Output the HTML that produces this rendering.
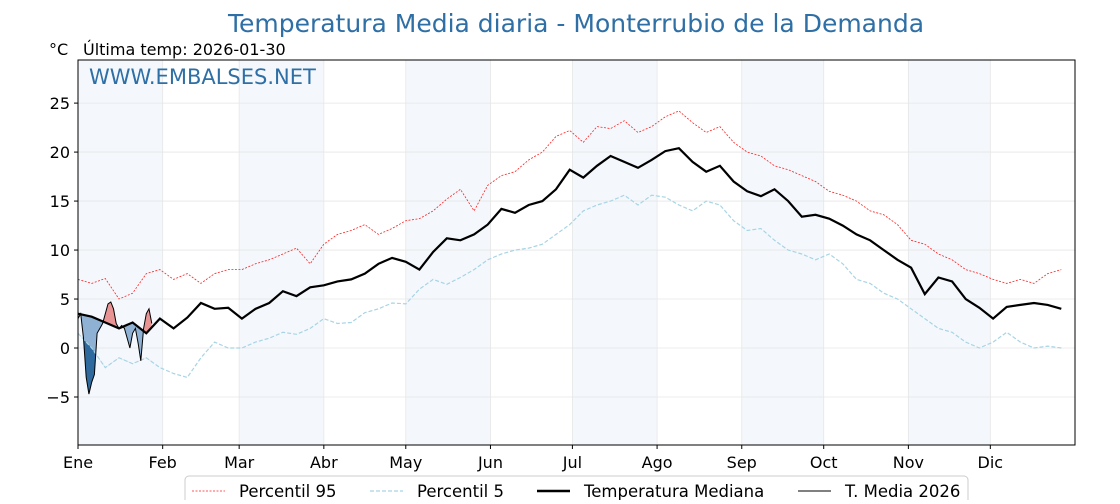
<!DOCTYPE html>
<html><head><meta charset="utf-8"><style>
body{margin:0;background:#fff;font-family:"DejaVu Sans","Liberation Sans",sans-serif;}
</style></head><body>
<svg id="chart" width="1120" height="500" xmlns="http://www.w3.org/2000/svg" style="font-family:'DejaVu Sans','Liberation Sans',sans-serif">
</svg>
<script>
const months=["Ene","Feb","Mar","Abr","May","Jun","Jul","Ago","Sep","Oct","Nov","Dic"];
const monthStart=[0,31,59,90,120,151,181,212,243,273,304,334];
const yTicks=[-5,0,5,10,15,20,25];
const stepDays=5;
const median=[3.5,3.2,2.6,2.0,2.6,1.5,3.0,2.0,3.1,4.6,4.0,4.1,3.0,4.0,4.6,5.8,5.3,6.2,6.4,6.8,7.0,7.6,8.6,9.2,8.8,8.0,9.8,11.2,11.0,11.6,12.6,14.2,13.8,14.6,15.0,16.2,18.2,17.4,18.6,19.6,19.0,18.4,19.2,20.1,20.4,19.0,18.0,18.6,17.0,16.0,15.5,16.2,15.0,13.4,13.6,13.2,12.5,11.6,11.0,10.0,9.0,8.2,5.5,7.2,6.8,5.0,4.1,3.0,4.2,4.4,4.6,4.4,4.0];
const p95=[7.0,6.6,7.1,5.0,5.6,7.6,8.0,7.0,7.6,6.6,7.6,8.0,8.0,8.6,9.0,9.6,10.2,8.6,10.6,11.6,12.0,12.6,11.6,12.2,13.0,13.2,14.0,15.2,16.2,14.0,16.6,17.6,18.0,19.2,20.0,21.6,22.2,21.0,22.6,22.4,23.2,22.0,22.6,23.6,24.2,23.0,22.0,22.6,21.0,20.0,19.6,18.6,18.2,17.6,17.0,16.0,15.6,15.0,14.0,13.6,12.6,11.0,10.6,9.6,9.0,8.0,7.6,7.0,6.6,7.0,6.6,7.6,8.0];
const p5=[1.5,0.0,-2.0,-1.0,-1.6,-1.0,-2.0,-2.6,-3.0,-1.0,0.6,0.0,0.0,0.6,1.0,1.6,1.4,2.0,3.0,2.5,2.6,3.6,4.0,4.6,4.5,6.0,7.0,6.5,7.2,8.0,9.0,9.6,10.0,10.2,10.6,11.6,12.6,14.0,14.6,15.0,15.6,14.6,15.6,15.4,14.6,14.0,15.0,14.6,13.0,12.0,12.2,11.0,10.0,9.6,9.0,9.6,8.6,7.0,6.6,5.6,5.0,4.0,3.0,2.0,1.6,0.6,0.0,0.6,1.6,0.6,0.0,0.2,0.0];
const t2026=[3.0,3.5,1.0,-3.0,-4.7,-3.5,-2.7,1.5,2.0,2.5,3.5,4.5,4.7,4.0,2.5,2.0,2.3,2.0,1.0,0.0,1.5,2.0,0.5,-1.3,2.0,3.5,4.0,2.5];

const L=78,R=1075,T=60,B=445,yMin=-9.9,yMax=29.4;
const xs=d=>L+d*(R-L)/365;
const ys=v=>B-(v-yMin)*(B-T)/(yMax-yMin);
const svg=document.getElementById('chart');
const NS='http://www.w3.org/2000/svg';
function mk(tag,attrs,parent){const e=document.createElementNS(NS,tag);for(const k in attrs)e.setAttribute(k,attrs[k]);(parent||svg).appendChild(e);return e;}
function interp(arr,d){const i=d/stepDays,a=Math.floor(i),f=i-a;const v0=arr[Math.min(a,arr.length-1)],v1=arr[Math.min(a+1,arr.length-1)];return v0+(v1-v0)*f;}
function pathOf(arr,step){return arr.map((v,i)=>(i?'L':'M')+xs(i*step).toFixed(1)+','+ys(v).toFixed(1)).join('');}

// title
let t=mk('text',{x:576,y:32,'text-anchor':'middle','font-size':25,fill:'#2e6fa6'});t.textContent='Temperatura Media diaria - Monterrubio de la Demanda';

t=mk('text',{x:49,y:55,'font-size':16,fill:'#000'});t.textContent='°C';

t=mk('text',{x:83,y:55,'font-size':16,fill:'#000'});t.textContent='Última temp: 2026-01-30';


// month bands
const bands=mk('g',{});
for(let m=0;m<12;m+=2){const x0=xs(monthStart[m]),x1=xs(monthStart[m+1]);
 const r=mk('rect',{x:x0,y:T,width:x1-x0,height:B-T,fill:'#f4f8fc'},bands);
 }
// grid
const grid=mk('g',{stroke:'#e6e6e6','stroke-width':0.8});
yTicks.forEach(v=>mk('line',{x1:L,x2:R,y1:ys(v),y2:ys(v)},grid));
monthStart.forEach(d=>mk('line',{x1:xs(d),x2:xs(d),y1:T,y2:B},grid));

t=mk('text',{x:89,y:84,'font-size':21,fill:'#2e6fa6'});t.textContent='WWW.EMBALSES.NET';


// fills for 2026
const defs=mk('defs',{});
const n=t2026.length;
const medD=[],p5D=[];for(let d=0;d<n;d++){medD.push(interp(median,d));p5D.push(interp(p5,d));}
const medPts=medD.map((v,d)=>xs(d)+','+ys(v));
const p5Pts=p5D.map((v,d)=>xs(d)+','+ys(v));
const tPts=t2026.map((v,d)=>xs(d)+','+ys(v));
let c=mk('clipPath',{id:'below'},defs);mk('polygon',{points:medPts.join(' ')+' '+xs(n-1)+','+B+' '+xs(0)+','+B},c);
c=mk('clipPath',{id:'above'},defs);mk('polygon',{points:medPts.join(' ')+' '+xs(n-1)+','+T+' '+xs(0)+','+T},c);
c=mk('clipPath',{id:'belowp5'},defs);mk('polygon',{points:p5Pts.join(' ')+' '+xs(n-1)+','+B+' '+xs(0)+','+B},c);
const diffPoly=tPts.join(' ')+' '+medPts.slice().reverse().join(' ');
let f=mk('polygon',{points:diffPoly,fill:'#8fb2d4','clip-path':'url(#below)'});
f=mk('polygon',{points:diffPoly,fill:'#e89494','clip-path':'url(#above)'});
f=mk('polygon',{points:tPts.join(' ')+' '+p5Pts.slice().reverse().join(' '),fill:'#2f6a9e','clip-path':'url(#belowp5)'});

// series
let p=mk('path',{d:pathOf(p95,stepDays),fill:'none',stroke:'#ff2020','stroke-width':0.8,'stroke-dasharray':'2,1.5'});
p=mk('path',{d:pathOf(p5,stepDays),fill:'none',stroke:'#a8d4e4','stroke-width':1.2,'stroke-dasharray':'4,2'});
p=mk('path',{d:pathOf(median,stepDays),fill:'none',stroke:'#000','stroke-width':2.2});
p=mk('path',{d:pathOf(t2026,1),fill:'none',stroke:'#000','stroke-width':1});

// axes frame
let fr=mk('rect',{x:L,y:T,width:R-L,height:B-T,fill:'none',stroke:'#000','stroke-width':1});
yTicks.forEach(v=>{mk('line',{x1:L-4,x2:L,y1:ys(v),y2:ys(v),stroke:'#000'});
 const tt=mk('text',{x:L-8,y:ys(v)+6,'text-anchor':'end','font-size':16});tt.textContent=v<0?'\u2212'+Math.abs(v):v;
 });
monthStart.forEach((d,i)=>{mk('line',{x1:xs(d),x2:xs(d),y1:B,y2:B+4,stroke:'#000'});
 const tt=mk('text',{x:xs(d),y:B+23,'text-anchor':'middle','font-size':16});tt.textContent=months[i];
 });

// legend
const lg=mk('g',{});
mk('rect',{x:185,y:476,width:783,height:30,rx:4,fill:'#fff',stroke:'#ccc'},lg);
const items=[['Percentil 95',192,'#ff2020',0.8,'2,1.5'],['Percentil 5',370,'#a8d4e4',1.2,'4,2'],['Temperatura Mediana',537,'#000',2.5,''],['T. Media 2026',798,'#000',1,'']];
items.forEach(it=>{const g=mk('g',{},lg);
 mk('line',{x1:it[1],x2:it[1]+33,y1:491,y2:491,stroke:it[2],'stroke-width':it[3],'stroke-dasharray':it[4]},g);
 const tt=mk('text',{x:it[1]+47,y:497,'font-size':16.5},g);tt.textContent=it[0];});
</script>
</body></html>
